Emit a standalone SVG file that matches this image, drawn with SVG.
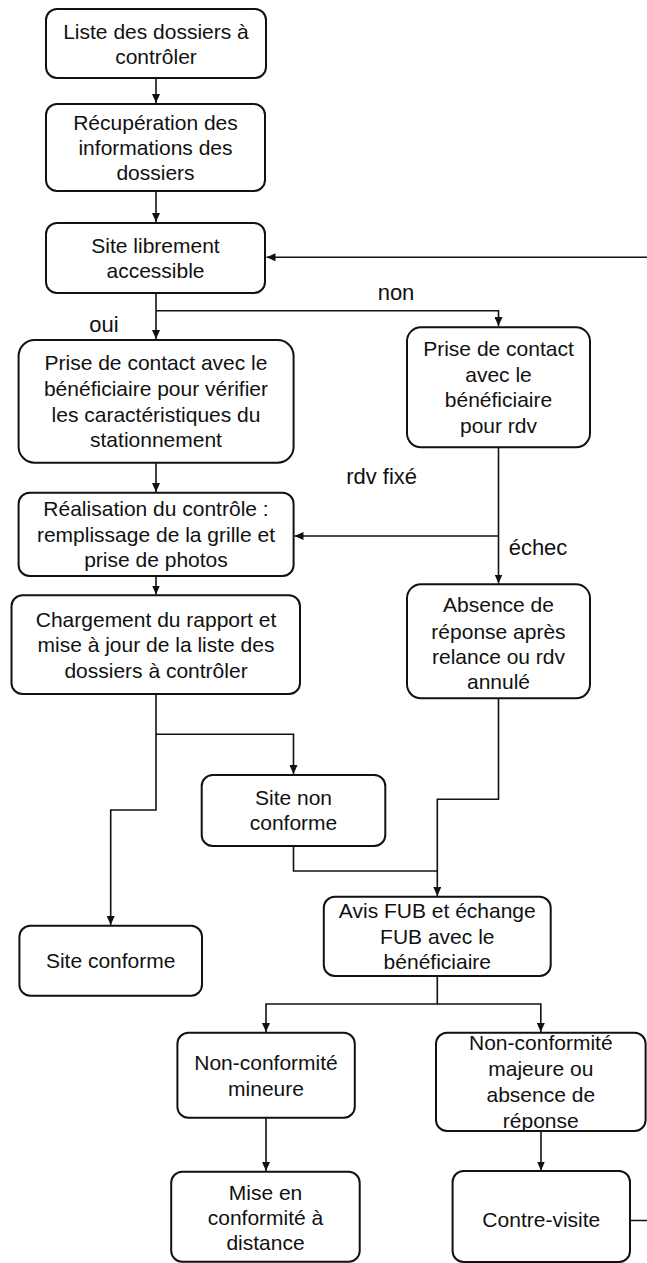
<svg xmlns="http://www.w3.org/2000/svg" width="647" height="1263" viewBox="0 0 647 1263">
<style>
.box{fill:#fff;stroke:#111;stroke-width:2}
.t{font-family:"Liberation Sans",Arial,sans-serif;font-size:21px;fill:#111;text-anchor:middle}
.lbl{font-family:"Liberation Sans",Arial,sans-serif;font-size:22px;fill:#111;text-anchor:middle}
.c{fill:none;stroke:#111;stroke-width:1.6}
</style>
<defs>
<marker id="ah" markerUnits="userSpaceOnUse" markerWidth="10" markerHeight="8" refX="9" refY="4" orient="auto">
<path d="M0,0 L9,4 L0,8 Z" fill="#111"/>
</marker>
</defs>
<rect width="647" height="1263" fill="#fff"/>
<g id="connectors">
<path class="c" d="M156 78 V103" marker-end="url(#ah)"/>
<path class="c" d="M156 191 V222" marker-end="url(#ah)"/>
<path class="c" d="M156 293 V339" marker-end="url(#ah)"/>
<path class="c" d="M156 310.7 H498.5 V326" marker-end="url(#ah)"/>
<path class="c" d="M156 463 V492" marker-end="url(#ah)"/>
<path class="c" d="M498.5 447.3 V583.5" marker-end="url(#ah)"/>
<path class="c" d="M498.5 536 H294.5" marker-end="url(#ah)"/>
<path class="c" d="M156 576 V594.5" marker-end="url(#ah)"/>
<path class="c" d="M156 694 V810 H110.7 V925" marker-end="url(#ah)"/>
<path class="c" d="M156 734.3 H293.5 V774" marker-end="url(#ah)"/>
<path class="c" d="M293.5 846 V871 H437.3"/>
<path class="c" d="M498.5 698.3 V799.3 H437.3 V896" marker-end="url(#ah)"/>
<path class="c" d="M437.3 976 V1004 H266 V1032" marker-end="url(#ah)"/>
<path class="c" d="M437.3 1004 H540.8 V1032" marker-end="url(#ah)"/>
<path class="c" d="M266 1117.7 V1171" marker-end="url(#ah)"/>
<path class="c" d="M541 1131 V1170.5" marker-end="url(#ah)"/>
<path class="c" d="M630 1220.5 H662 V257.3 H266.5" marker-end="url(#ah)"/>
</g>
<g id="labels">
<text class="lbl" x="396" y="300">non</text>
<text class="lbl" x="104" y="332">oui</text>
<text class="lbl" x="381.6" y="484">rdv fixé</text>
<text class="lbl" x="538" y="554.5">échec</text>
</g>
<g id="n1"><rect class="box" x="46" y="9" width="220" height="69" rx="11"/>
<text class="t" x="156" y="39">Liste des dossiers à</text><text class="t" x="156" y="64">contrôler</text></g>
<g id="n2"><rect class="box" x="46" y="104" width="219" height="87" rx="11"/>
<text class="t" x="155.5" y="130">Récupération des</text><text class="t" x="155.5" y="155">informations des</text><text class="t" x="155.5" y="180">dossiers</text></g>
<g id="n3"><rect class="box" x="46" y="223" width="219" height="70" rx="11"/>
<text class="t" x="155.5" y="253">Site librement</text><text class="t" x="155.5" y="278">accessible</text></g>
<g id="n4"><rect class="box" x="18.6" y="340" width="275" height="122.7" rx="16"/>
<text class="t" x="156" y="370">Prise de contact avec le</text><text class="t" x="156" y="396">bénéficiaire pour vérifier</text><text class="t" x="156" y="421.5">les caractéristiques du</text><text class="t" x="156" y="447">stationnement</text></g>
<g id="n5"><rect class="box" x="407" y="327.3" width="183" height="120" rx="14"/>
<text class="t" x="498.5" y="356">Prise de contact</text><text class="t" x="498.5" y="382">avec le</text><text class="t" x="498.5" y="407">bénéficiaire</text><text class="t" x="498.5" y="433">pour rdv</text></g>
<g id="n6"><rect class="box" x="18.6" y="492.7" width="275" height="83.3" rx="11"/>
<text class="t" x="156" y="516">Réalisation du contrôle :</text><text class="t" x="156" y="542">remplissage de la grille et</text><text class="t" x="156" y="567">prise de photos</text></g>
<g id="n7"><rect class="box" x="11.5" y="595.3" width="288.5" height="98.7" rx="11"/>
<text class="t" x="156" y="627">Chargement du rapport et</text><text class="t" x="156" y="652">mise à jour de la liste des</text><text class="t" x="156" y="677.5">dossiers à contrôler</text></g>
<g id="n8"><rect class="box" x="407" y="584.3" width="183" height="114" rx="14"/>
<text class="t" x="498.5" y="612">Absence de</text><text class="t" x="498.5" y="638.5">réponse après</text><text class="t" x="498.5" y="664">relance ou rdv</text><text class="t" x="498.5" y="689">annulé</text></g>
<g id="n9"><rect class="box" x="201.7" y="775" width="183.6" height="71" rx="11"/>
<text class="t" x="293.5" y="805">Site non</text><text class="t" x="293.5" y="830">conforme</text></g>
<g id="n10"><rect class="box" x="323.8" y="896.7" width="226.9" height="79.3" rx="11"/>
<text class="t" x="437.3" y="918">Avis FUB et échange</text><text class="t" x="437.3" y="943.5">FUB avec le</text><text class="t" x="437.3" y="968.5">bénéficiaire</text></g>
<g id="n11"><rect class="box" x="19.4" y="925.7" width="182.6" height="70" rx="11"/>
<text class="t" x="110.7" y="967.5">Site conforme</text></g>
<g id="n12"><rect class="box" x="177.4" y="1032.7" width="177.4" height="85" rx="11"/>
<text class="t" x="266" y="1070">Non-conformité</text><text class="t" x="266" y="1096">mineure</text></g>
<g id="n13"><rect class="box" x="436" y="1032.7" width="209.6" height="98.3" rx="11"/>
<text class="t" x="540.8" y="1050">Non-conformité</text><text class="t" x="540.8" y="1076">majeure ou</text><text class="t" x="540.8" y="1102">absence de</text><text class="t" x="540.8" y="1128">réponse</text></g>
<g id="n14"><rect class="box" x="171.2" y="1171.7" width="188.5" height="90" rx="11"/>
<text class="t" x="265.5" y="1199.5">Mise en</text><text class="t" x="265.5" y="1225">conformité à</text><text class="t" x="265.5" y="1250">distance</text></g>
<g id="n15"><rect class="box" x="452.6" y="1171" width="177.4" height="91" rx="11"/>
<text class="t" x="541.3" y="1227">Contre-visite</text></g>
</svg>
